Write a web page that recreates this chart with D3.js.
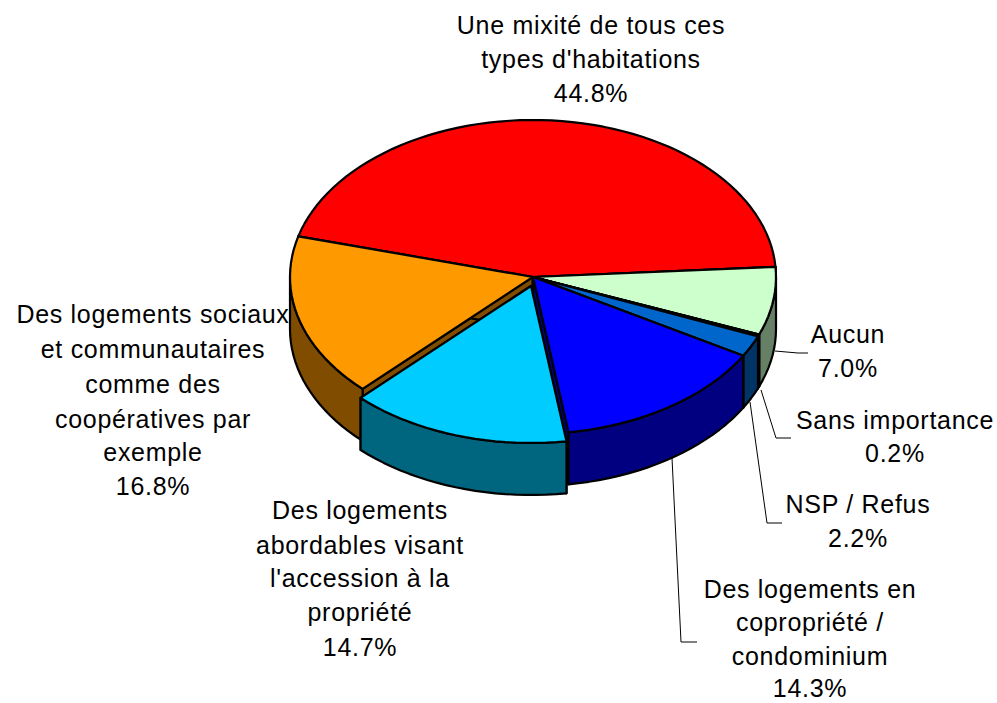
<!DOCTYPE html>
<html><head><meta charset="utf-8">
<script src="https://cdnjs.cloudflare.com/ajax/libs/d3/7.9.0/d3.min.js"></script>
<style>html,body{margin:0;padding:0;background:#fff}svg{display:block}</style>
</head><body><svg id="c" width="997" height="703"></svg>
<script>
const categories = ["Une mixité de tous ces types d'habitations","Aucun","Sans importance","NSP / Refus","Des logements en copropriété / condominium","Des logements abordables visant l'accession à la propriété","Des logements sociaux et communautaires comme des coopératives par exemple"];
const values = [44.8,7.0,0.2,2.2,14.3,14.7,16.8];
const valueLabels = ["44.8%","7.0%","0.2%","2.2%","14.3%","14.7%","16.8%"];
const labelLines = [
 ["Une mixité de tous ces","types d'habitations"],
 ["Aucun"],
 ["Sans importance"],
 ["NSP / Refus"],
 ["Des logements en","copropriété /","condominium"],
 ["Des logements","abordables visant","l'accession à la","propriété"],
 ["Des logements sociaux","et communautaires","comme des","coopératives par","exemple"]
];
const topColors = ["#FF0000","#CCFFCC","#800000","#0066CC","#0000FF","#00CCFF","#FF9900"];
const wallColors = ["#800000","#668066","#400000","#003366","#000080","#006680","#804D00"];

// layout
const rad = d => d*Math.PI/180;
const labelLayout = [
 {x:591,ys:[25,59,93]},
 {x:848,ys:[334,368]},
 {x:895,ys:[420,453]},
 {x:858,ys:[504,538]},
 {x:810,ys:[589,622,656,688]},
 {x:360,ys:[510,545,578,612,647]},
 {x:153,ys:[314,349,384,419,452,486]}
];
const leaders = [
 [[775,351],[798,353],[808,353]],
 [[761,390],[776,438],[791,438]],
 [[750,402],[767,523],[782,523]],
 [[672,458],[681,642],[697,642]]
];
const depth = 52;
const sx = d3.scaleLinear().domain([-1,1]).range([290,776]);
const sy = d3.scaleLinear().domain([-1,1]).range([120,434]);
const svg = d3.select("#c");

const arcs = d3.pie().sort(null).value(d=>d).startAngle(rad(-75)).endAngle(rad(285))(values);
const offsets = values.map((v,i)=> i===5 ? [-2,9] : [0,0]);
const pt = (a,dy,o)=>[sx(Math.sin(a))+o[0], sy(-Math.cos(a))+dy+o[1]];
const ctr = (dy,o)=>[sx(0)+o[0], sy(0)+dy+o[1]];
const samples = (a0,a1)=>{
  const n=Math.max(1,Math.ceil((a1-a0)/rad(2.5)));
  return d3.range(n+1).map(k=>a0+(a1-a0)*k/n);
};
const line = d3.line().curve(d3.curveLinearClosed);
const leaderLine = d3.line();

// painter's order: back to front
const order = [0,6,1,2,3,4,5];
order.forEach(i=>{
  const a=arcs[i], o=offsets[i], g=svg.append("g");
  const paint=(pts,fill)=>g.append("path").attr("d",line(pts)).attr("fill",fill)
    .attr("stroke","#000").attr("stroke-width",2.2).attr("stroke-linejoin","round");
  [a.startAngle,a.endAngle].forEach(t=>{
    paint([ctr(0,o),pt(t,0,o),pt(t,depth,o),ctr(depth,o)],wallColors[i]);
  });
  const lo=Math.max(a.startAngle,rad(90)), hi=Math.min(a.endAngle,rad(270));
  if(hi>lo){
    const s=samples(lo,hi);
    paint(s.map(t=>pt(t,0,o)).concat(s.slice().reverse().map(t=>pt(t,depth,o))),wallColors[i]);
  }
  paint([ctr(0,o)].concat(samples(a.startAngle,a.endAngle).map(t=>pt(t,0,o))),topColors[i]);
});

svg.append("g").selectAll("path").data(leaders).join("path")
  .attr("d",d=>leaderLine(d)).attr("fill","none").attr("stroke","#000").attr("stroke-width",1);

const lg=svg.append("g").attr("font-family","'Liberation Sans',Arial,sans-serif").attr("font-size",25).attr("letter-spacing",0.7).attr("fill","#000").attr("text-anchor","middle");
categories.forEach((c,i)=>{
  const lines=labelLines[i].concat([valueLabels[i]]);
  lines.forEach((t,k)=>{
    lg.append("text").attr("x",labelLayout[i].x).attr("y",labelLayout[i].ys[k]).attr("dy","0.35em").text(t);
  });
});
</script></body></html>
